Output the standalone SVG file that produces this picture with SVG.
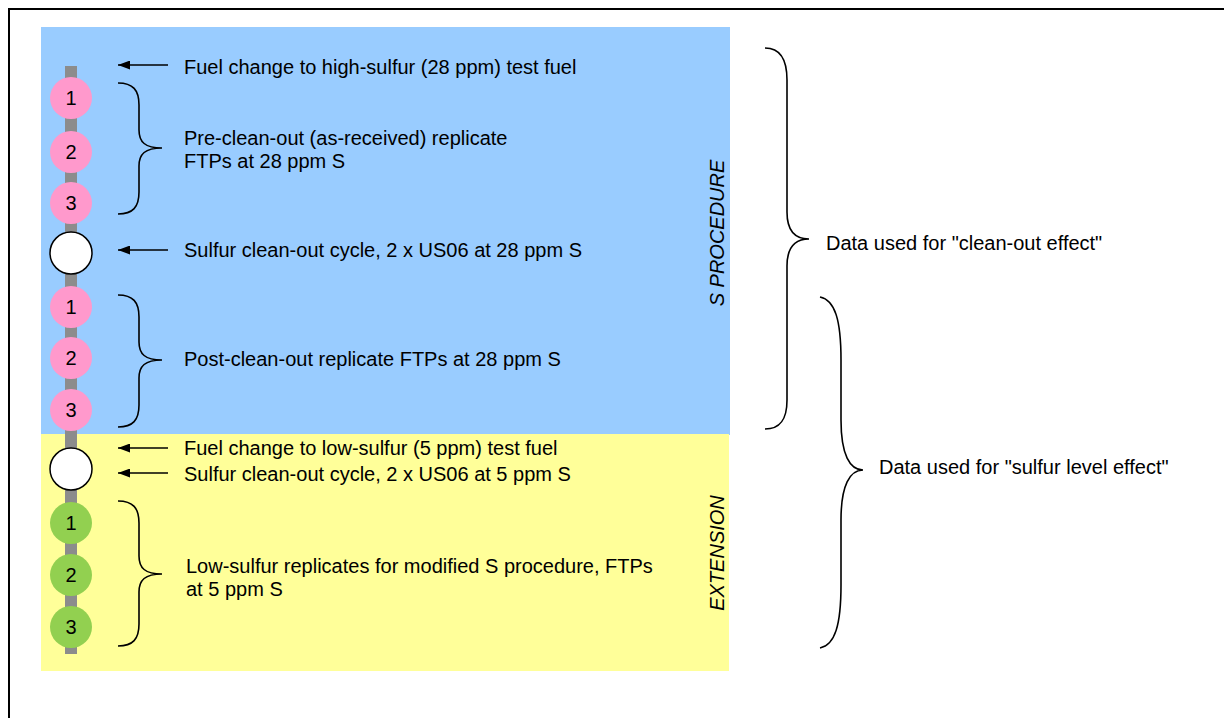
<svg xmlns="http://www.w3.org/2000/svg" width="1224" height="718" viewBox="0 0 1224 718">
<defs>
<marker id="ah" markerWidth="13" markerHeight="9" refX="12" refY="4.5" orient="auto" markerUnits="userSpaceOnUse">
<path d="M12,4.5 L0,0 L0,9 Z" fill="#000"/>
</marker>
</defs>
<style>
text{font-family:"Liberation Sans",Arial,sans-serif;font-size:20px;fill:#000}
.num{text-anchor:middle}
.side{font-style:italic;text-anchor:middle}
.pink{fill:#ff99cc}
.green{fill:#92d050}
.white{fill:#fff;stroke:#000;stroke-width:1.5}
.brace{fill:none;stroke:#000;stroke-width:1.6}
.arrow{stroke:#000;stroke-width:1.4;fill:none}
</style>
<rect x="9" y="9" width="1240" height="740" fill="#fff" stroke="#000" stroke-width="2"/>
<g id="panel-s">
<rect x="41" y="27" width="689" height="408" fill="#99ccff"/>
<text class="side" transform="translate(724,233) rotate(-90)">S PROCEDURE</text>
</g>
<g id="panel-ext">
<rect x="41" y="434" width="688" height="237" fill="#ffff99"/>
<text class="side" transform="translate(724,553) rotate(-90)">EXTENSION</text>
</g>
<rect id="timeline" x="65" y="66" width="12" height="588" fill="#8c8c8c"/>
<g id="n-pre1"><circle class="pink" cx="71" cy="98" r="21"/><text class="num" x="71" y="105">1</text></g>
<g id="n-pre2"><circle class="pink" cx="71" cy="152" r="21"/><text class="num" x="71" y="159">2</text></g>
<g id="n-pre3"><circle class="pink" cx="71" cy="203" r="21"/><text class="num" x="71" y="210">3</text></g>
<g id="n-clean1"><circle class="white" cx="71" cy="253" r="21"/></g>
<g id="n-post1"><circle class="pink" cx="71" cy="307" r="21"/><text class="num" x="71" y="314">1</text></g>
<g id="n-post2"><circle class="pink" cx="71" cy="358" r="21"/><text class="num" x="71" y="365">2</text></g>
<g id="n-post3"><circle class="pink" cx="71" cy="410" r="21"/><text class="num" x="71" y="417">3</text></g>
<g id="n-clean2"><circle class="white" cx="71" cy="469" r="21"/></g>
<g id="n-low1"><circle class="green" cx="71" cy="523" r="21"/><text class="num" x="71" y="530">1</text></g>
<g id="n-low2"><circle class="green" cx="71" cy="575" r="21"/><text class="num" x="71" y="582">2</text></g>
<g id="n-low3"><circle class="green" cx="71" cy="627" r="21"/><text class="num" x="71" y="634">3</text></g>
<g id="connectors">
<line class="arrow" x1="168" y1="65" x2="118" y2="65" marker-end="url(#ah)"/>
<line class="arrow" x1="168" y1="250" x2="118" y2="250" marker-end="url(#ah)"/>
<line class="arrow" x1="168" y1="448" x2="118" y2="448" marker-end="url(#ah)"/>
<line class="arrow" x1="168" y1="473" x2="118" y2="473" marker-end="url(#ah)"/>
<path class="brace" d="M118,83 C133,83 139,90 139,105 L139,130 C139,142 145,148 162,148 C145,148 139,154 139,166 L139,192 C139,207 133,214 118,214"/>
<path class="brace" d="M118,295 C133,295 139,302 139,317 L139,342 C139,354 145,360 162,360 C145,360 139,366 139,378 L139,405 C139,420 133,427 118,427"/>
<path class="brace" d="M118,501 C133,501 139,508 139,523 L139,556 C139,568 145,574 162,574 C145,574 139,580 139,592 L139,624 C139,639 133,646 118,646"/>
<path class="brace" d="M765,48 C780,48 787,60 787,80 L787,212 C787,230 795,239 809,239 C795,239 787,248 787,266 L787,400 C787,420 780,429 765,429"/>
<path class="brace" d="M820,297 C835,300 841,320 841,360 L841,420 C841,455 850,470 863,470 C850,470 841,485 841,520 L841,585 C841,625 835,645 820,648"/>
</g>
<g id="labels">
<text x="184" y="74">Fuel change to high-sulfur (28 ppm) test fuel</text>
<text x="184" y="145">Pre-clean-out (as-received) replicate</text>
<text x="184" y="168">FTPs at 28 ppm S</text>
<text x="184" y="257">Sulfur clean-out cycle, 2 x US06 at 28 ppm S</text>
<text x="184" y="366">Post-clean-out replicate FTPs at 28 ppm S</text>
<text x="184" y="455">Fuel change to low-sulfur (5 ppm) test fuel</text>
<text x="184" y="481">Sulfur clean-out cycle, 2 x US06 at 5 ppm S</text>
<text x="186" y="573">Low-sulfur replicates for modified S procedure, FTPs</text>
<text x="186" y="596">at 5 ppm S</text>
<text x="826" y="250">Data used for "clean-out effect"</text>
<text x="879" y="474">Data used for "sulfur level effect"</text>
</g>
</svg>
